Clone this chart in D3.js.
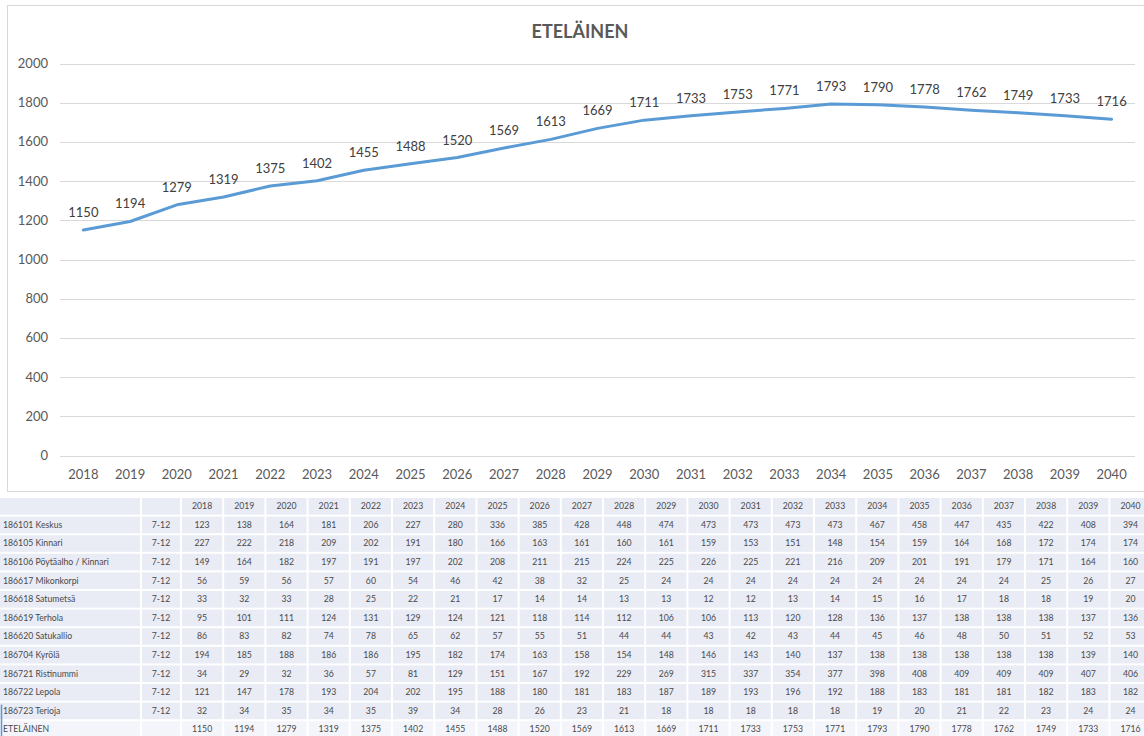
<!DOCTYPE html>
<html>
<head>
<meta charset="utf-8">
<script src="https://cdn.jsdelivr.net/npm/d3@7"></script>
<style>
  body { margin: 0; background: #fff; }
  svg { display: block; font-family: Lato, "Open Sans", sans-serif; }
</style>
</head>
<body>
<script>
const width = 1144;
const height = 736;

const title = 'ETELÄINEN';
const years = ['2018', '2019', '2020', '2021', '2022', '2023', '2024', '2025', '2026', '2027', '2028',
  '2029', '2030', '2031', '2032', '2033', '2034', '2035', '2036', '2037', '2038', '2039', '2040'];
const totals = [1150, 1194, 1279, 1319, 1375, 1402, 1455, 1488, 1520, 1569, 1613, 1669,
  1711, 1733, 1753, 1771, 1793, 1790, 1778, 1762, 1749, 1733, 1716];
const yTicks = [0, 200, 400, 600, 800, 1000, 1200, 1400, 1600, 1800, 2000];

const schools = ['186101 Keskus', '186105 Kinnari', '186106 Pöytäalho / Kinnari', '186617 Mikonkorpi',
  '186618 Satumetsä', '186619 Terhola', '186620 Satukallio', '186704 Kyrölä', '186721 Ristinummi',
  '186722 Lepola', '186723 Terioja'];
const grades = '7-12';
const keskus = [123, 138, 164, 181, 206, 227, 280, 336, 385, 428, 448, 474, 473, 473, 473, 473, 467, 458, 447, 435, 422, 408, 394];
const kinnari = [227, 222, 218, 209, 202, 191, 180, 166, 163, 161, 160, 161, 159, 153, 151, 148, 154, 159, 164, 168, 172, 174, 174];
const poytaalho = [149, 164, 182, 197, 191, 197, 202, 208, 211, 215, 224, 225, 226, 225, 221, 216, 209, 201, 191, 179, 171, 164, 160];
const mikonkorpi = [56, 59, 56, 57, 60, 54, 46, 42, 38, 32, 25, 24, 24, 24, 24, 24, 24, 24, 24, 24, 25, 26, 27];
const satumetsa = [33, 32, 33, 28, 25, 22, 21, 17, 14, 14, 13, 13, 12, 12, 13, 14, 15, 16, 17, 18, 18, 19, 20];
const terhola = [95, 101, 111, 124, 131, 129, 124, 121, 118, 114, 112, 106, 106, 113, 120, 128, 136, 137, 138, 138, 138, 137, 136];
const satukallio = [86, 83, 82, 74, 78, 65, 62, 57, 55, 51, 44, 44, 43, 42, 43, 44, 45, 46, 48, 50, 51, 52, 53];
const kyrola = [194, 185, 188, 186, 186, 195, 182, 174, 163, 158, 154, 148, 146, 143, 140, 137, 138, 138, 138, 138, 138, 139, 140];
const ristinummi = [34, 29, 32, 36, 57, 81, 129, 151, 167, 192, 229, 269, 315, 337, 354, 377, 398, 408, 409, 409, 409, 407, 406];
const lepola = [121, 147, 178, 193, 204, 202, 195, 188, 180, 181, 183, 187, 189, 193, 196, 192, 188, 183, 181, 181, 182, 183, 182];
const terioja = [32, 34, 35, 34, 35, 39, 34, 28, 26, 23, 21, 18, 18, 18, 18, 18, 19, 20, 21, 22, 23, 24, 24];

const schoolValues = [keskus, kinnari, poytaalho, mikonkorpi, satumetsa, terhola, satukallio,
  kyrola, ristinummi, lepola, terioja];

const svg = d3.select('body')
  .append('svg')
  .attr('width', width)
  .attr('height', height);

// chart frame
svg.append('rect')
  .attr('x', 7.5).attr('y', 5.5)
  .attr('width', width).attr('height', 486)
  .attr('fill', '#fff')
  .attr('stroke', '#d9d9d9');

svg.append('text')
  .attr('x', 580).attr('y', 38)
  .attr('text-anchor', 'middle')
  .attr('font-size', 18).attr('font-weight', 'bold')
  .attr('fill', '#595959')
  .text(title);

const x = d3.scalePoint()
  .domain(years)
  .range([60, 1135])
  .padding(0.5);

const y = d3.scaleLinear()
  .domain([0, 2000])
  .range([455.5, 63.5]);

// gridlines + y labels
const grid = svg.append('g');
grid.selectAll('line')
  .data(yTicks)
  .enter().append('line')
  .attr('x1', 60).attr('x2', 1135)
  .attr('y1', d => Math.round(y(d)) + 0.5)
  .attr('y2', d => Math.round(y(d)) + 0.5)
  .attr('stroke', '#d9d9d9');
grid.selectAll('text')
  .data(yTicks)
  .enter().append('text')
  .attr('x', 48)
  .attr('y', d => y(d) + 4.5)
  .attr('text-anchor', 'end')
  .attr('font-size', 13)
  .attr('fill', '#595959')
  .text(d => d);

// x labels
svg.append('g').selectAll('text')
  .data(years)
  .enter().append('text')
  .attr('x', d => x(d))
  .attr('y', 479)
  .attr('text-anchor', 'middle')
  .attr('font-size', 13)
  .attr('fill', '#595959')
  .text(d => d);

const line = d3.line()
  .x((d, i) => x(years[i]))
  .y(d => y(d));

svg.append('path')
  .datum(totals)
  .attr('d', line)
  .attr('fill', 'none')
  .attr('stroke', '#5b9bd5')
  .attr('stroke-width', 3)
  .attr('stroke-linejoin', 'round')
  .attr('stroke-linecap', 'round');

svg.append('g').selectAll('text')
  .data(totals)
  .enter().append('text')
  .attr('x', (d, i) => x(years[i]))
  .attr('y', d => y(d) - 13)
  .attr('text-anchor', 'middle')
  .attr('font-size', 13)
  .attr('fill', '#404040')
  .text(d => d);

// ---- table under the chart ----
const rowKeys = ['header'].concat(schools, ['total']);
const row = d3.scaleBand()
  .domain(rowKeys)
  .range([498, 498 + 13 * 18.6]);
const col = d3.scaleBand()
  .domain(years)
  .range([182, 182 + 23 * 42.2]);

const table = svg.append('g').attr('font-size', 8.7).attr('fill', '#4a4a4a');
const cellFill = '#e9ebf5';

const rows = table.selectAll('g.row')
  .data(rowKeys)
  .enter().append('g')
  .attr('class', 'row')
  .attr('transform', d => `translate(0,${row(d)})`);

const rh = row.bandwidth();
// background cells
rows.each(function (key) {
  const g = d3.select(this);
  const fill = key === 'total' ? '#f4f5fa' : cellFill;
  g.append('rect').attr('x', 0).attr('y', 0).attr('width', 140).attr('height', rh - 2).attr('fill', fill);
  g.append('rect').attr('x', 142).attr('y', 0).attr('width', 38).attr('height', rh - 2).attr('fill', fill);
  g.selectAll('rect.c')
    .data(years)
    .enter().append('rect')
    .attr('class', 'c')
    .attr('x', d => col(d))
    .attr('y', 0)
    .attr('width', col.bandwidth() - 2)
    .attr('height', rh - 2)
    .attr('fill', fill);

  let label = '';
  let values = null;
  if (key === 'header') {
    values = years;
  } else if (key === 'total') {
    label = title;
    values = totals;
  } else {
    label = key;
    values = schoolValues[schools.indexOf(key)];
    g.append('text')
      .attr('x', 161).attr('y', rh / 2 + 2)
      .attr('text-anchor', 'middle')
      .text(grades);
  }
  g.append('text')
    .attr('x', 3).attr('y', rh / 2 + 2)
    .text(label);
  g.selectAll('text.v')
    .data(values)
    .enter().append('text')
    .attr('class', 'v')
    .attr('x', (d, i) => col(years[i]) + col.bandwidth() / 2 - 1)
    .attr('y', rh / 2 + 2)
    .attr('text-anchor', 'middle')
    .text(d => d);
});

// selection marker at the left edge of the last rows
svg.append('line')
  .attr('x1', 1.5).attr('x2', 1.5)
  .attr('y1', row('186723 Terioja') + 2)
  .attr('y2', height)
  .attr('stroke', '#5b9bd5')
  .attr('stroke-width', 1.5);
</script>
</body>
</html>
